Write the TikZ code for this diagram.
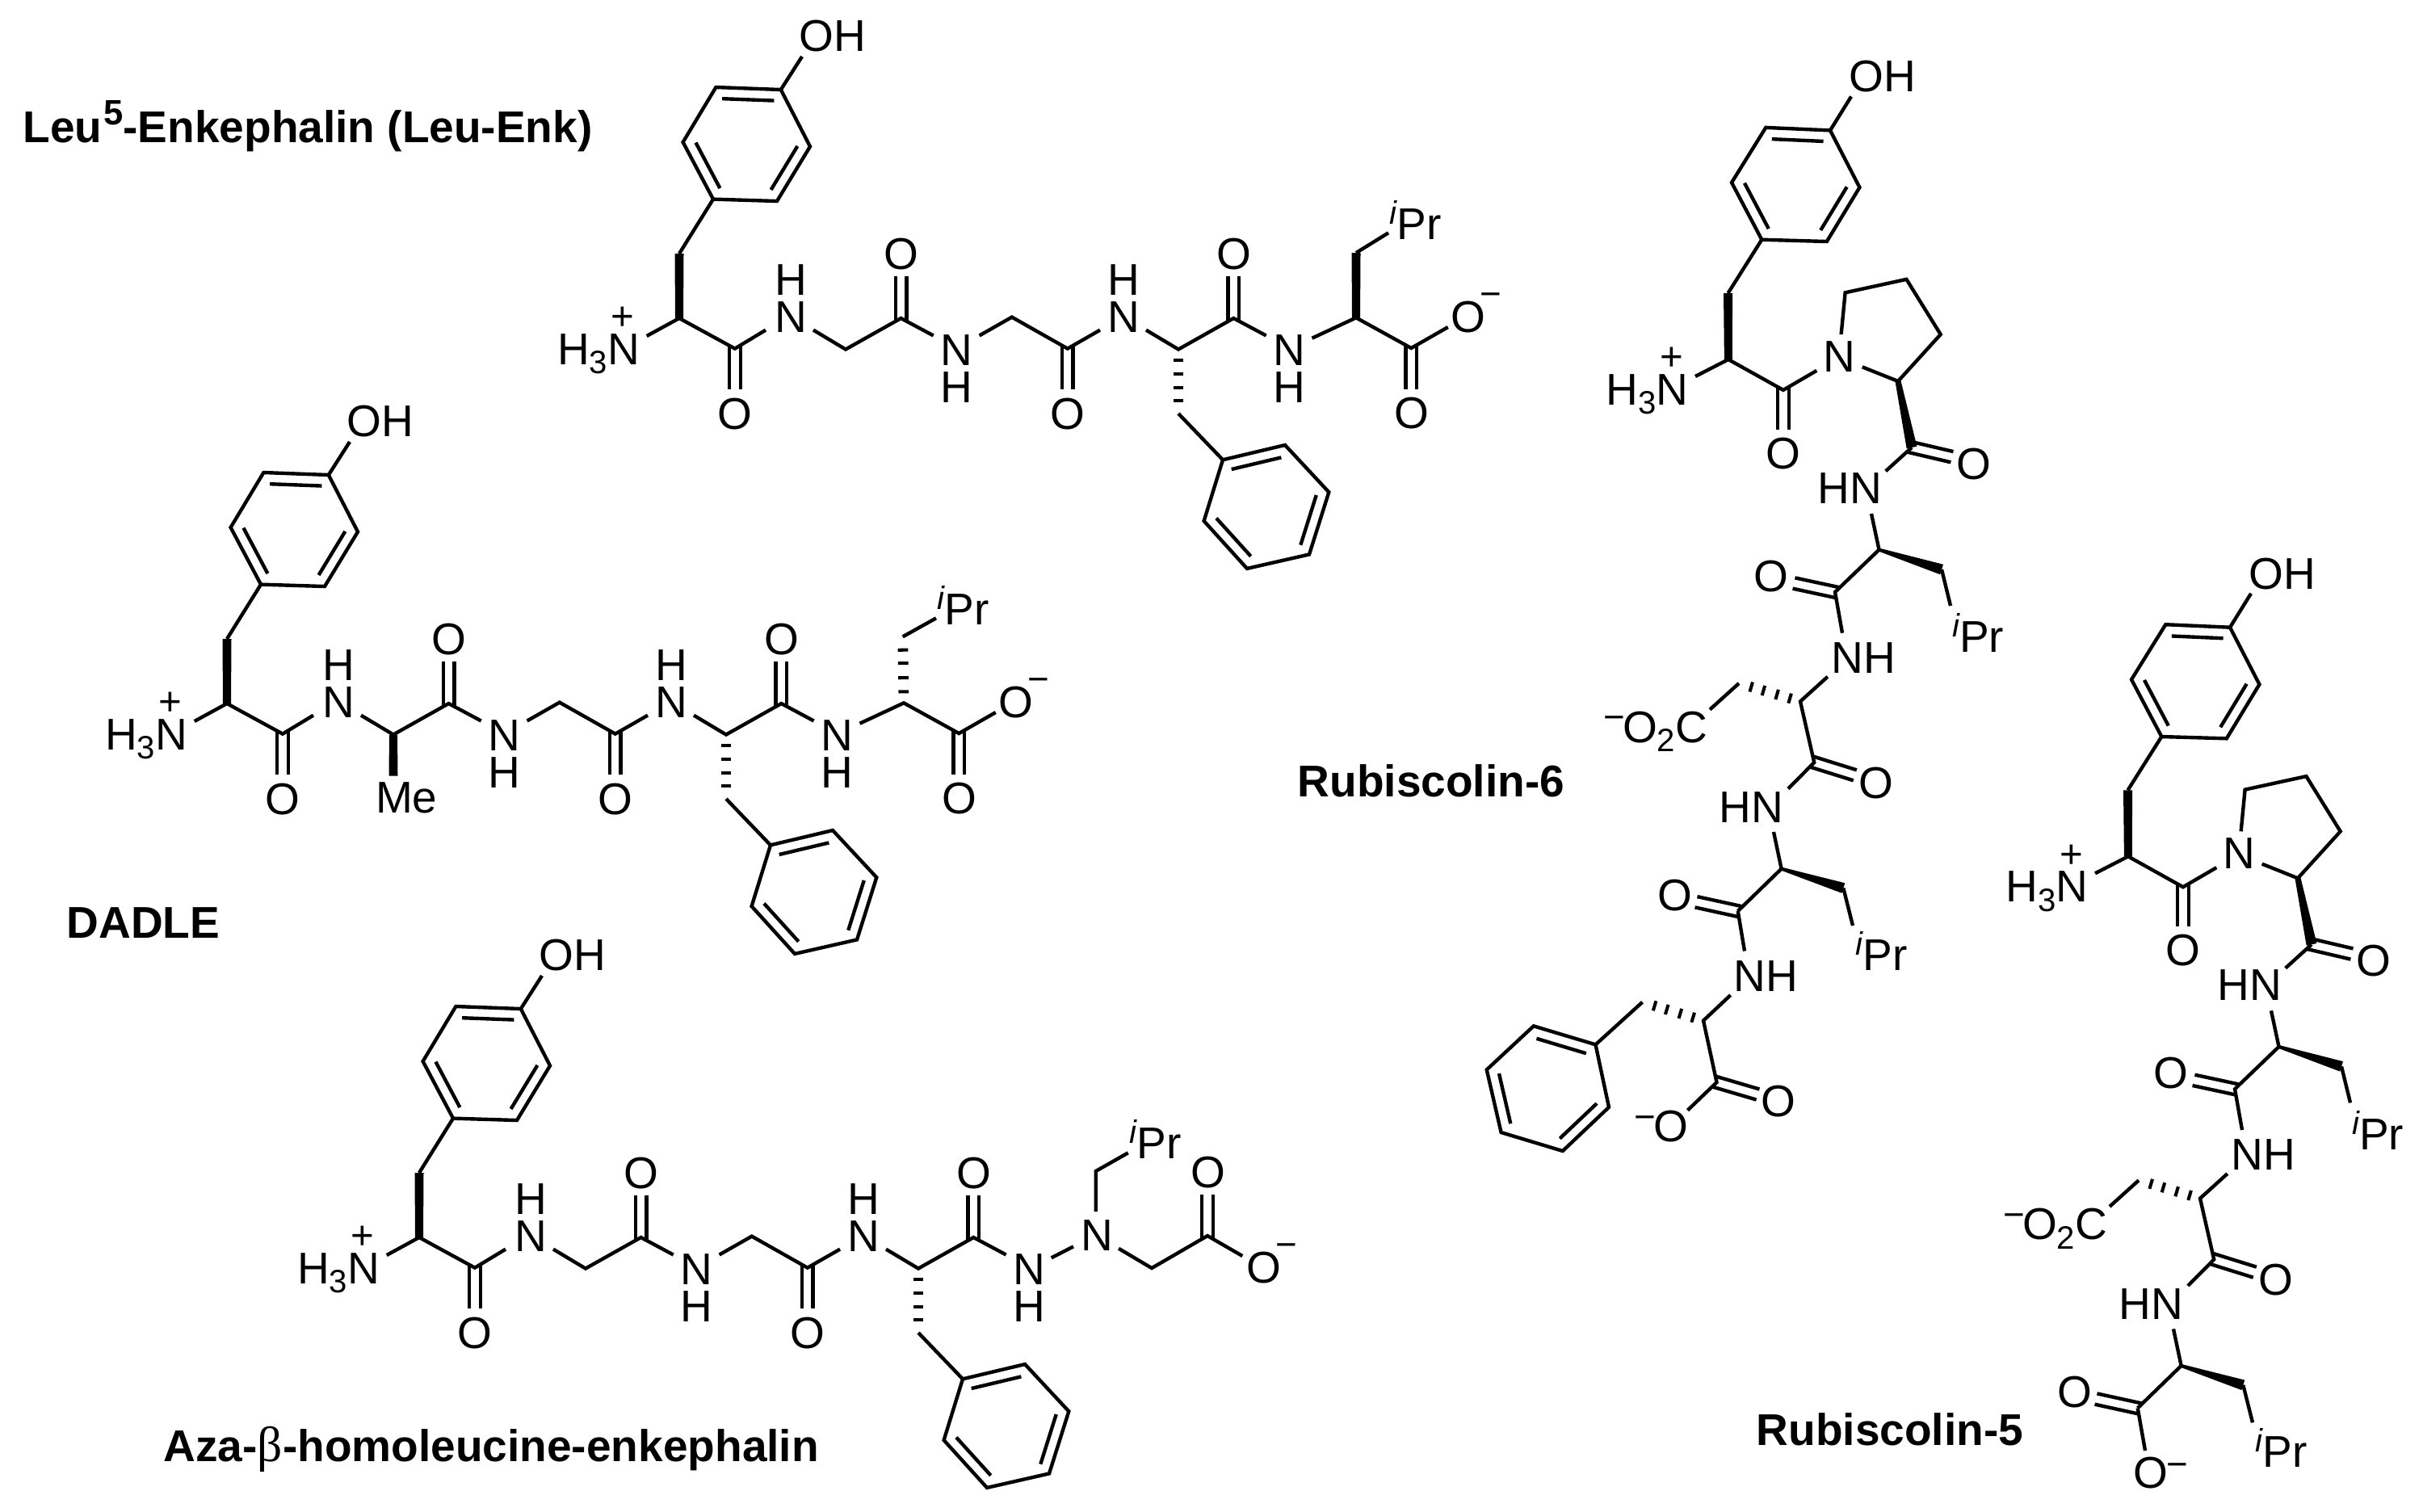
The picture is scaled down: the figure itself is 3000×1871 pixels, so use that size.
\documentclass[tikz,border=0pt]{standalone}
\usepackage{fontspec}
\setmainfont{Liberation Sans}
\newfontfamily\betafont{Liberation Serif}
\usetikzlibrary{calc}

\newcommand{\atomfont}{\fontsize{15.65}{18}\selectfont}
\newcommand{\smallfont}{\fontsize{11.4}{12}\selectfont}
\newcommand{\lowsub}[1]{\raisebox{-3.4pt}{\smallfont #1}}
\newcommand{\upminus}[1]{\raisebox{#1}{\fontsize{13}{14}\selectfont −}}
\newcommand{\iPr}{\raisebox{5.4pt}{\smallfont\itshape i}Pr}

\tikzset{
	bond/.style={line width=1.25pt},
	hashbar/.style={line width=1.15pt},
	atom/.style={font=\atomfont, inner sep=0pt, anchor=base},
	atoml/.style={atom, anchor=base west},
	atomr/.style={atom, anchor=base east},
	charge/.style={font=\fontsize{14}{15}\selectfont, inner sep=0pt, anchor=base},
	title/.style={font=\atomfont\bfseries, inner sep=0pt, anchor=base west},
}

% two strokes either side of the line C to end
\newcommand{\dbond}[2]{
	\draw[bond] ($(#1)!-0.04cm!(#2)!0.068cm!90:(#2)$) -- ($(#2)!0.068cm!-90:(#1)$);
	\draw[bond] ($(#1)!-0.04cm!(#2)!0.068cm!-90:(#2)$) -- ($(#2)!0.068cm!90:(#1)$);
}
\newcommand{\wedgebond}[4]{
	\fill ($(#1)!#3!90:(#2)$) -- ($(#1)!#3!-90:(#2)$) -- ($(#2)!#4!90:(#1)$) -- ($(#2)!#4!-90:(#1)$) -- cycle;
}
\newcommand{\hashbond}[2]{
	\foreach \t in {.17,.38,.6,.8}
		\draw[hashbar] ($(#1)!\t!(#2)!0.063cm!90:(#2)$) -- ($(#1)!\t!(#2)!0.063cm!-90:(#2)$);
}
% ring with vertices #11 ... #16
\newcommand{\benzene}[1]{
	\coordinate (#1c) at ($(#11)!.5!(#14)$);
	\draw[bond] (#11) -- (#12) -- (#13) -- (#14) -- (#15) -- (#16) -- cycle;
	\draw[bond] ($(#11)!.2!(#1c)$) -- ($(#12)!.2!(#1c)$);
	\draw[bond] ($(#13)!.2!(#1c)$) -- ($(#14)!.2!(#1c)$);
	\draw[bond] ($(#15)!.2!(#1c)$) -- ($(#16)!.2!(#1c)$);
}

% linear peptide up to the last amide N, in Leu-Enk coordinates
\newcommand{\enkbody}{
	\foreach \n/\x/\y in {t1/966.8/111, t2/886.4/108, t3/845.6/176, t4/883/246.6, t5/962/249, t6/1003/181.4,
		ohe/993/70, ch/841/314, al/841/394, ne/800.7/416, c1/909.9/431.6, o1e/909.9/482,
		n1a/948/408.6, n1b/1007/408.6, g1/1047/432.5, c2/1115.5/394, o2e/1115.5/342,
		n2a/1155.7/415.5, n2b/1212.6/415.5, g2/1252.8/392.6, c3/1321.8/431.6, o3e/1321.8/482,
		n3a/1362/408.6, n3b/1419/408.6, al2/1459/432.5, c4/1527.4/394, o4e/1527.4/342,
		n4a/1567.6/415.5, bn/1459/512, p1/1514/569.3, p2/1591/551, p3/1645.3/609.3,
		p4/1621/686.4, p5/1544/703.9, p6/1490.6/645}
		\coordinate (\n) at (\x,\y);
	\benzene{t}
	\benzene{p}
	\draw[bond] (t1) -- (ohe);
	\draw[bond] (t4) -- (ch);
	\wedgebond{al}{ch}{0.05cm}{0.055cm}
	\draw[bond] (ne) -- (al) -- (c1) -- (n1a);
	\draw[bond] (n1b) -- (g1) -- (c2) -- (n2a);
	\draw[bond] (n2b) -- (g2) -- (c3) -- (n3a);
	\draw[bond] (n3b) -- (al2) -- (c4) -- (n4a);
	\draw[bond] (bn) -- (p1);
	\hashbond{al2}{bn}
	\dbond{c1}{o1e}
	\dbond{c2}{o2e}
	\dbond{c3}{o3e}
	\dbond{c4}{o4e}
	\node[atoml] (oh) at (989,63) {OH};
	\node[atomr] (amine) at (792.6,451) {H\lowsub{3}N};
	\node[charge] (plus) at (770.6,408.6) {+};
	\node[atom] (o1) at (909.9,531) {O};
	\node[atom] (n1) at (979.5,411) {N};
	\node[atom] (h1) at (979.5,365) {H};
	\node[atom] (o2) at (1115.5,333) {O};
	\node[atom] (n2) at (1184.5,452) {N};
	\node[atom] (h2) at (1184.5,498) {H};
	\node[atom] (o3) at (1321.8,531) {O};
	\node[atom] (n3) at (1391.5,411) {N};
	\node[atom] (h3) at (1391.5,365) {H};
	\node[atom] (o4) at (1527.4,333) {O};
	\node[atom] (n4) at (1596.4,452) {N};
	\node[atom] (h4) at (1596.4,498) {H};
}
% leucine end, shared by Leu-Enk and DADLE
\newcommand{\leucoo}{
	\foreach \n/\x/\y in {n4b/1624.5/418.7, al3/1679/393.3, ipe/1719/288.3, c5/1747.3/431, o5e/1747.3/481.7, oe/1792.7/405}
		\coordinate (\n) at (\x,\y);
	\draw[bond] (n4b) -- (al3) -- (c5) -- (oe);
	\dbond{c5}{o5e}
	\node[atoml] (ipr) at (1720,296) {\iPr};
	\node[atom] (o5) at (1748,530) {O};
	\node[atoml] (oneg) at (1796,411) {O\kern-2pt\upminus{9.1pt}};
}

% Rubiscolin chain as far as the second leucine, in Rubiscolin-6 coordinates
\newcommand{\rubbody}{
	\foreach \n/\x/\y in {t1/2266/161.4, t2/2186.3/157.9, t3/2144/226, t4/2181.3/296.7, t5/2261.8/299, t6/2302.4/232,
		ohe/2292/119.5, ch/2139.5/363, al/2139.9/445, ne/2099/466, c1/2207.9/482.9, o1e/2207.9/532, na/2249.3/458.8,
		pa/2279.6/414, pb/2284.6/362.3, pc/2360.4/345.8, pd/2402.7/414, pe/2350/472, pf/2305.7/454.3,
		c2/2367/554, o2e/2416.9/565.7, hna/2334.7/583.3, hnb/2317/636, al2/2326.5/680.6, ch2/2404/705, ipa/2415/750,
		c3/2272/733, o3e/2221/722, nha/2281/783.7, nhb/2262.8/837.8, al3/2229/868.4, hb/2153/846, coe/2117/878.5,
		c4/2246.2/944, o4e/2296.8/959.8, hma/2213.9/976.6, hmb/2196/1030, al4/2205.6/1075.6, ch4/2282.3/1099.5,
		ipb/2294/1146, c5/2151.7/1128, o5e/2100/1116.7}
		\coordinate (\n) at (\x,\y);
	\benzene{t}
	\draw[bond] (t1) -- (ohe);
	\draw[bond] (t4) -- (ch);
	\wedgebond{al}{ch}{0.05cm}{0.055cm}
	\draw[bond] (ne) -- (al) -- (c1) -- (na);
	\draw[bond] (pa) -- (pb) -- (pc) -- (pd) -- (pe) -- (pf);
	\wedgebond{pe}{c2}{0.035cm}{0.065cm}
	\draw[bond] (c2) -- (hna);
	\draw[bond] (hnb) -- (al2) -- (c3) -- (nha);
	\wedgebond{al2}{ch2}{0.02cm}{0.065cm}
	\draw[bond] (ch2) -- (ipa);
	\draw[bond] (nhb) -- (al3) -- (c4) -- (hma);
	\hashbond{al3}{hb}
	\draw[bond] (hb) -- (coe);
	\draw[bond] (hmb) -- (al4) -- (c5);
	\wedgebond{al4}{ch4}{0.02cm}{0.065cm}
	\draw[bond] (ch4) -- (ipb);
	\dbond{c1}{o1e}
	\dbond{c2}{o2e}
	\dbond{c3}{o3e}
	\dbond{c4}{o4e}
	\dbond{c5}{o5e}
	\node[atoml] (oh) at (2288.5,113.7) {OH};
	\node[atomr] (amine) at (2091,501) {H\lowsub{3}N};
	\node[charge] (plus) at (2070,458.8) {+};
	\node[atom] (o1) at (2207.9,580) {O};
	\node[atom] (npro) at (2277.5,460.5) {N};
	\node[atom] (o2) at (2444,593.6) {O};
	\node[atoml] (hn1) at (2250,623.5) {HN};
	\node[atom] (o3) at (2193,732.5) {O};
	\node[atoml] (ipr1) at (2416.5,807.7) {\iPr};
	\node[atoml] (nh1) at (2267,833) {NH};
	\node[atoml] (coo) at (1984.5,919) {\upminus{4.3pt}\kern-0.8pt O\lowsub{2}C};
	\node[atom] (o4) at (2323,988.5) {O};
	\node[atoml] (hn2) at (2128,1018) {HN};
	\node[atoml] (ipr2) at (2297,1201.4) {\iPr};
	\node[atom] (o5) at (2073.7,1127) {O};
}

\begin{document}
\begin{tikzpicture}[x=0.01cm, y=-0.01cm]
	\useasboundingbox (0,0) rectangle (3000,1871);

	% Leu-Enk
	\begin{scope}[name prefix=l-]
		\enkbody
		\leucoo
		\coordinate (ch3) at (1679,313);
		\wedgebond{al3}{ch3}{0.05cm}{0.055cm}
		\draw[bond] (ch3) -- (ipe);
	\end{scope}
	\node[title] (leuname) at (28,176) {Leu\kern0.5pt\raisebox{6pt}{\fontsize{12.4}{13}\selectfont 5}-Enkephalin (Leu-Enk)};

	% DADLE
	\begin{scope}[shift={(-560,477)}, name prefix=d-]
		\enkbody
		\leucoo
		\coordinate (hb) at (1677.7,311.3);
		\hashbond{al3}{hb}
		\draw[bond] (hb) -- (ipe);
		\coordinate (me) at (1047,483.5);
		\wedgebond{g1}{me}{0.05cm}{0.055cm}
		\node[atoml] (mename) at (1024.4,529.6) {Me};
	\end{scope}
	\node[title] (dadlename) at (82,1161) {DADLE};

	% Aza
	\begin{scope}[shift={(-322,1138)}, name prefix=a-]
		\enkbody
	\end{scope}
	\foreach \n/\x/\y in {aza1/1301.7/1557.3, aza2/1329/1543.3, aza3/1356.7/1500, aza4/1356.7/1450, aza5/1396.7/1427.3,
		aza6/1385/1545.7, aza7/1426/1570, aza8/1495/1530, aza9/1495/1479, aza10/1538.3/1555}
		\coordinate (\n) at (\x,\y);
	\draw[bond] (aza1) -- (aza2);
	\draw[bond] (aza3) -- (aza4) -- (aza5);
	\draw[bond] (aza6) -- (aza7) -- (aza8) -- (aza10);
	\dbond{aza8}{aza9}
	\node[atom] (azan) at (1358.3,1548.3) {N};
	\node[atoml] (azaipr) at (1398,1434) {\iPr};
	\node[atom] (azao) at (1495.7,1470) {O};
	\node[atoml] (azaoneg) at (1543,1588.3) {O\kern-2pt\upminus{9.1pt}};
	\node[title] (azaname) at (202,1809) {Aza-{\betafont\mdseries\fontsize{17.5}{18}\selectfont β}-homoleucine-enkephalin};

	% Rubiscolin-6
	\begin{scope}[name prefix=r-]
		\rubbody
		\foreach \n/\x/\y in {nja/2160/1177.5, njb/2142.6/1232, al5/2109/1263.6, hc/2033.5/1240.7, c6/2125.5/1340,
			o6e/2176.5/1355, oe/2089.5/1374.6, f1/1975.5/1293.3, f2/1898.8/1270.3, f3/1840.7/1324.4, f4/1858.6/1402,
			f5/1934.8/1425, f6/1992/1370.8}
			\coordinate (\n) at (\x,\y);
		\benzene{f}
		\draw[bond] (c5) -- (nja);
		\draw[bond] (njb) -- (al5) -- (c6) -- (oe);
		\hashbond{al5}{hc}
		\draw[bond] (hc) -- (f1);
		\dbond{c6}{o6e}
		\node[atoml] (nh3) at (2145.6,1227.8) {NH};
		\node[atom] (o6) at (2202,1382.8) {O};
		\node[atoml] (oneg) at (2022.5,1413) {\upminus{4pt}\kern-0.8pt O};
	\end{scope}
	\node[title] (rubsix) at (1606,986) {Rubiscolin-6};

	% Rubiscolin-5
	\begin{scope}[shift={(495,615.3)}, name prefix=s-]
		\rubbody
		\coordinate (oe) at (2161,1180.7);
		\draw[bond] (c5) -- (oe);
		\node[atoml] (oneg) at (2145.6,1227.3) {O\kern-0.5pt\upminus{4pt}};
	\end{scope}
	\node[title] (rubfive) at (2174,1789) {Rubiscolin-5};
\end{tikzpicture}
\end{document}
